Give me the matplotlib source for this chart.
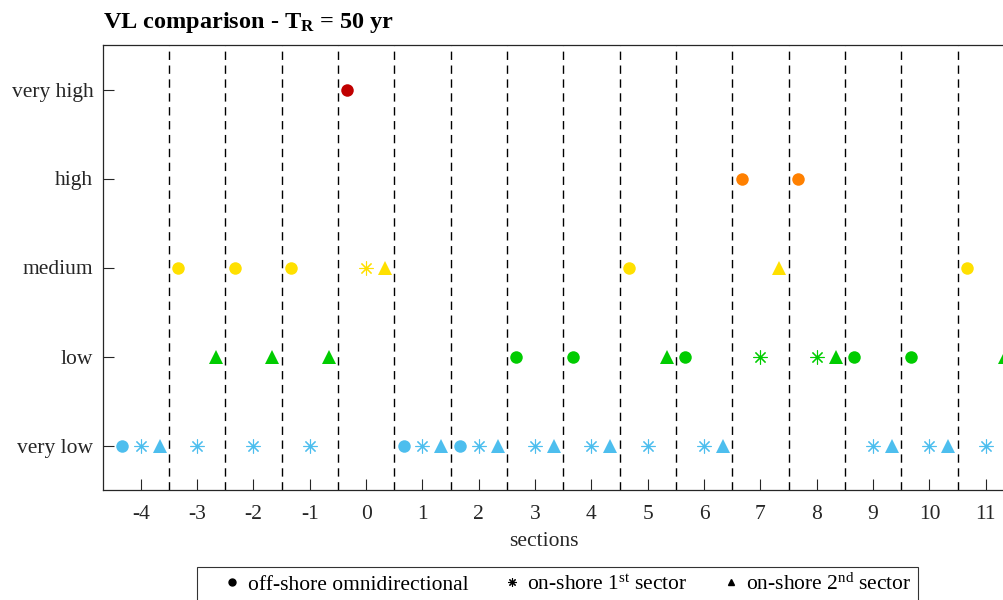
import matplotlib
matplotlib.use("Agg")
import matplotlib.pyplot as plt
from matplotlib.lines import Line2D
import numpy as np

plt.rcParams['font.family'] = ['Liberation Serif', 'DejaVu Serif']
plt.rcParams['mathtext.fontset'] = 'custom'
plt.rcParams['mathtext.rm'] = 'Liberation Serif'
plt.rcParams['mathtext.it'] = 'Liberation Serif:italic'
plt.rcParams['mathtext.bf'] = 'Liberation Serif:bold'

# ---- data ----
level_names = ['very low', 'low', 'medium', 'high', 'very high']
sections = [-4, -3, -2, -1, 0, 1, 2, 3, 4, 5, 6, 7, 8, 9, 10, 11]
# level index (1 = very low ... 5 = very high)
offshore_omni = [1, 3, 3, 3, 5, 1, 1, 2, 2, 3, 2, 4, 4, 2, 2, 3]
onshore_1st   = [1, 1, 1, 1, 3, 1, 1, 1, 1, 1, 1, 2, 2, 1, 1, 1]
onshore_2nd   = [1, 2, 2, 2, 3, 1, 1, 1, 1, 2, 1, 3, 2, 1, 1, 2]
section_borders = [-3.5, -2.5, -1.5, -0.5, 0.5, 1.5, 2.5, 3.5, 4.5,
                   5.5, 6.5, 7.5, 8.5, 9.5, 10.5]
level_colors = {1: '#4DBEEE', 2: '#00CC00', 3: '#FFE000',
                4: '#FF8000', 5: '#C00000'}

fig = plt.figure(figsize=(10.04, 6.0), dpi=100)
W, H = 1004, 600
ax_left, ax_right, ax_top, ax_bot = 103, 1023.5, 45, 490
ax = fig.add_axes([ax_left / W, 1 - ax_bot / H, (ax_right - ax_left) / W,
                   (ax_bot - ax_top) / H])

for xb in section_borders:
    ax.axvline(xb, color='black', linestyle=(0, (6, 4)), linewidth=1.0, zorder=1)

off = 1/3
ast = (8, 2, 0)
for s, a, b, c in zip(sections, offshore_omni, onshore_1st, onshore_2nd):
    ax.plot(s - off, a, 'o', color=level_colors[a], markersize=9, markeredgewidth=0, zorder=3)
    ax.plot(s, b, marker=ast, linestyle='none', color=level_colors[b],
            markersize=10, markeredgewidth=0.8, zorder=3)
    ax.plot(s + off, c, '^', color=level_colors[c], markersize=10, markeredgewidth=0, zorder=3)

ax.set_xlim(-4.67, 11.67)
ax.set_ylim(0.5, 5.5)
ax.set_xticks(np.arange(-4, 12))
ax.set_xticklabels([str(v) for v in range(-4, 12)])
ax.set_yticks([1, 2, 3, 4, 5])
ax.set_yticklabels(level_names)
ax.tick_params(direction='in', length=8, width=0.8, labelsize=15.5, colors='#262626',
               labelcolor='#262626')
ax.tick_params(axis='x', pad=11)
ax.tick_params(axis='y', pad=7)
for sp in ax.spines.values():
    sp.set_color('#262626')
    sp.set_linewidth(0.9)

ax.set_xlabel('sections', fontsize=15.5, color='#262626')
ax.xaxis.set_label_coords((544 - ax_left) / (ax_right - ax_left), -0.095)

fig.text(ax_left / W, 1 - 22.5 / H, r'VL comparison - T$_{\mathbf{R}}$ = 50 yr',
         fontsize=17.5, fontweight='bold', ha='left', va='center')

handles = [
    Line2D([], [], marker='o', color='black', linestyle='none', markersize=5),
    Line2D([], [], marker=ast, color='black', linestyle='none', markersize=6, markeredgewidth=0.8),
    Line2D([], [], marker='^', color='black', linestyle='none', markersize=5),
]
labels = ['off-shore omnidirectional', r'on-shore 1$^{\mathrm{st}}$ sector',
          r'on-shore 2$^{\mathrm{nd}}$ sector']
leg = fig.legend(handles, labels, loc='center', ncol=3,
                 bbox_to_anchor=(557.5 / W, 1 - 584 / H), fontsize=15.5,
                 frameon=True, fancybox=False, edgecolor='black',
                 handlelength=2.7, handletextpad=-0.65, columnspacing=0.68,
                 borderpad=0.3)
leg.get_frame().set_linewidth(0.8)

fig.savefig('out.png', dpi=100)
